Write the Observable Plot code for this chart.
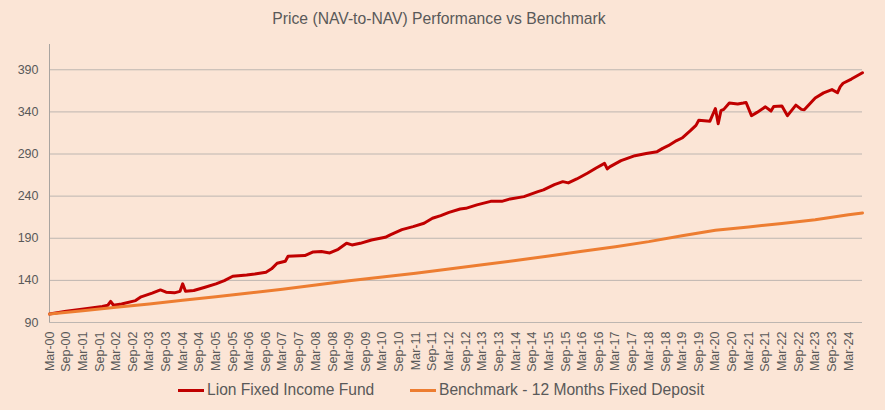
<!DOCTYPE html>
<html>
<head>
<meta charset="utf-8">
<script src="https://cdn.jsdelivr.net/npm/d3@7"></script>
<script src="https://cdn.jsdelivr.net/npm/@observablehq/plot@0.6"></script>
<style>
  html, body { margin: 0; padding: 0; background: #FBE5D6; }
  #wrap { position: relative; width: 885px; height: 410px; background: #FBE5D6; font-family: "Liberation Sans", Arial, sans-serif; color: #595959; overflow: hidden; }
  #title { position: absolute; left: 0; width: 878px; top: 10px; line-height: 18px; font-size: 15.7px; text-align: center; color: #595959; }
  #chart { position: absolute; left: 0; top: 34px; }
  .leg { position: absolute; top: 380px; height: 20px; line-height: 20px; font-size: 15.6px; display: flex; align-items: center; color: #595959; white-space: nowrap; }
  .sw { width: 26px; height: 3px; margin-right: 3px; }
</style>
</head>
<body>
<div id="wrap">
  <div id="title">Price (NAV-to-NAV) Performance vs Benchmark</div>
  <div id="chart"></div>
  <div class="leg" style="left:178px"><span class="sw" style="background:#C00000"></span><span>Lion Fixed Income Fund</span></div>
  <div class="leg" style="left:410px"><span class="sw" style="background:#ED7D31"></span><span>Benchmark - 12 Months Fixed Deposit</span></div>
</div>
<script>
const seriesNames = ["Lion Fixed Income Fund", "Benchmark - 12 Months Fixed Deposit"];

const fundDates = ["2000-03","2000-09","2001-04","2001-10","2001-12","2002-01","2002-02","2002-05","2002-10","2002-12",
  "2003-04","2003-07","2003-09","2003-12","2004-02","2004-03","2004-04","2004-07","2004-11","2005-03",
  "2005-06","2005-09","2006-02","2006-05","2006-09","2006-11","2007-01","2007-04","2007-05","2007-11",
  "2008-02","2008-05","2008-08","2008-11","2009-02","2009-04","2009-07","2009-11","2010-04","2010-06",
  "2010-10","2011-02","2011-06","2011-09","2011-12","2012-03","2012-07","2012-09","2013-01","2013-06",
  "2013-10","2014-01","2014-06","2014-11","2015-01","2015-05","2015-08","2015-10","2016-01","2016-05",
  "2016-08","2016-11","2016-12","2017-01","2017-05","2017-10","2018-02","2018-06","2018-08","2018-10",
  "2019-01","2019-03","2019-06","2019-08","2019-09","2020-01","2020-03","2020-04","2020-05","2020-06",
  "2020-08","2020-11","2021-01","2021-02","2021-04","2021-06","2021-09","2021-11","2021-12","2022-03",
  "2022-05","2022-08","2022-10","2022-11","2023-03","2023-06","2023-09","2023-11","2023-12","2024-01",
  "2024-04","2024-08"];
const fundValues = [100,103.4,106.2,109,110.5,115,110.5,112,116,120.5,
  124.8,128.7,126,125.2,127,135.9,127,128,131.9,135.9,
  139.8,144.9,146.5,147.7,149.7,153.7,160.3,162.7,168.6,169.4,
  173.8,174.2,172.6,176.9,184,182.1,184,188,191.1,194.4,
  200.3,203.8,207.8,213.7,216.9,220.8,224.8,225.5,229.6,233.8,
  233.8,236.7,239.4,245.3,247.4,253.6,257.2,255.7,260.4,267.5,
  273.4,278.9,272.3,275,282.1,288,290.5,292.8,296.7,299.9,
  306,309,317.7,324,330,329,344,326,341.4,343,
  350.5,349.3,350.5,351.2,335.5,339.4,346,341,346.5,347,
  335.5,348,343,342.6,356.5,362.6,366.5,362.8,370,374,
  379,386.5];

const benchDates = ["2000-03","2001-03","2002-03","2003-03","2004-03","2005-03","2006-03","2007-03","2008-03","2009-03",
  "2010-03","2011-03","2012-03","2013-03","2014-03","2015-03","2016-03","2017-03","2018-03","2019-03",
  "2020-03","2021-03","2022-03","2023-03","2024-03","2024-08"];
const benchValues = [100,104,108,112,116.5,120.5,125,129.5,134.5,139.5,
  144,148.5,153.5,158.5,163.5,169,174.5,180,186,193,
  199.5,203.5,207.5,212,218,220];

const yTicks = [90,140,190,240,290,340,390];

const parse = d3.utcParse("%Y-%m");
const fund = fundDates.map((d, i) => ({date: parse(d), value: fundValues[i], series: seriesNames[0]}));
const bench = benchDates.map((d, i) => ({date: parse(d), value: benchValues[i], series: seriesNames[1]}));

const xTicks = [];
for (let y = 2000; y <= 2024; y++) {
  xTicks.push(new Date(Date.UTC(y, 2, 1)));
  if (y < 2024) xTicks.push(new Date(Date.UTC(y, 8, 1)));
}

const chart = Plot.plot({
  width: 885,
  height: 338,
  marginTop: 10,
  marginBottom: 50,
  marginLeft: 49,
  marginRight: 23,
  style: {background: "transparent", fontFamily: "'Liberation Sans', Arial, sans-serif", fontSize: "12.5px", color: "#595959", overflow: "visible"},
  x: {type: "utc", domain: [parse("2000-03"), parse("2024-08")]},
  y: {domain: [90, 420]},
  marks: [
    Plot.gridY(yTicks, {stroke: "#bdb6b1", strokeOpacity: 1, strokeWidth: 1}),
    Plot.ruleX([parse("2000-03")], {y1: 90, y2: 420, stroke: "#a9a4a0", strokeWidth: 1}),
    Plot.axisY(yTicks, {tickSize: 0, tickPadding: 11, label: null, fill: "#595959", fontSize: 12.5}),
    Plot.axisX(xTicks, {tickSize: 0, tickPadding: 9, tickRotate: -90, tickFormat: d3.utcFormat("%b-%y"), label: null, fill: "#595959", fontSize: 12.5}),
    Plot.line(fund, {x: "date", y: "value", stroke: "#C00000", strokeWidth: 3, strokeLinejoin: "round", strokeLinecap: "round"}),
    Plot.line(bench, {x: "date", y: "value", stroke: "#ED7D31", strokeWidth: 3, strokeLinejoin: "round", strokeLinecap: "round"})
  ]
});
document.getElementById("chart").appendChild(chart);
</script>
</body>
</html>
